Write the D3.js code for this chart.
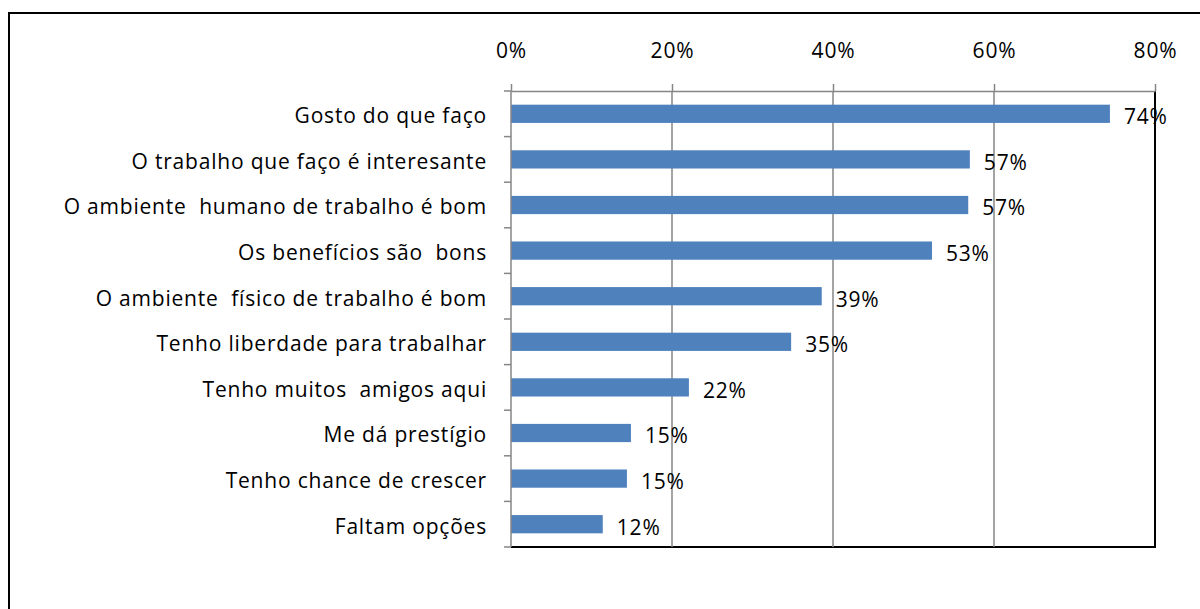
<!DOCTYPE html>
<html>
<head>
<meta charset="utf-8">
<script src="https://cdn.jsdelivr.net/npm/d3@7"></script>
<style>
  body { margin: 0; background: #fff; }
  text { font-family: "Open Sans", sans-serif; fill: #000; }
</style>
</head>
<body>
<div id="chart"></div>
<script>
const categories = [
  "Gosto do que faço",
  "O trabalho que faço é interesante",
  "O ambiente  humano de trabalho é bom",
  "Os benefícios são  bons",
  "O ambiente  físico de trabalho é bom",
  "Tenho liberdade para trabalhar",
  "Tenho muitos  amigos aqui",
  "Me dá prestígio",
  "Tenho chance de crescer",
  "Faltam opções"
];
const values = [74.4, 57.0, 56.8, 52.3, 38.6, 34.8, 22.1, 14.9, 14.4, 11.4];
const valueLabels = ["74%", "57%", "57%", "53%", "39%", "35%", "22%", "15%", "15%", "12%"];
const tickValues = [0, 20, 40, 60, 80];

const width = 1200, height = 609;
const margin = { top: 91, right: 45, bottom: 62, left: 511 };
const fontSize = "21px";
const spacing = "0.8px";

const svg = d3.select("#chart").append("svg")
    .attr("width", width)
    .attr("height", height);

// outer frame (right/bottom edges fall outside the picture)
svg.append("rect")
    .attr("x", 9).attr("y", 13)
    .attr("width", width).attr("height", height)
    .attr("fill", "none")
    .attr("stroke", "#000")
    .attr("stroke-width", 2);

const x = d3.scaleLinear()
    .domain([0, 80])
    .range([margin.left, width - margin.right]);

const y = d3.scaleBand()
    .domain(categories)
    .range([margin.top, height - margin.bottom])
    .paddingInner(0.6)
    .paddingOuter(0.3);

const g = svg.append("g");

// plot border (right and bottom)
g.append("path")
    .attr("d", `M${x(80)},${margin.top}V${height - margin.bottom}H${x(0)}`)
    .attr("fill", "none")
    .attr("stroke", "#000")
    .attr("stroke-width", 2);

// gridlines
g.selectAll(".grid")
  .data(tickValues.slice(1, -1))
  .enter().append("line")
    .attr("class", "grid")
    .attr("x1", d => x(d)).attr("x2", d => x(d))
    .attr("y1", margin.top).attr("y2", height - margin.bottom)
    .attr("stroke", "#868686")
    .attr("stroke-width", 1.5);

// top axis
const xAxis = d3.axisTop(x)
    .tickValues(tickValues)
    .tickFormat(d => d + "%")
    .tickSize(7)
    .tickPadding(26)
    .tickSizeOuter(0);

const xAxisGroup = g.append("g")
    .attr("transform", `translate(0,${margin.top})`)
    .call(xAxis);
xAxisGroup.select(".domain").attr("stroke", "#868686").attr("stroke-width", 1.5);
xAxisGroup.selectAll(".tick line").attr("stroke", "#868686").attr("stroke-width", 1.5);
xAxisGroup.selectAll(".tick text")
    .style("font-family", "'Open Sans', sans-serif")
    .style("font-size", fontSize)
    .style("letter-spacing", spacing)
    .attr("fill", "#000");

// bars
g.selectAll(".bar")
  .data(values)
  .enter().append("rect")
    .attr("class", "bar")
    .attr("x", x(0))
    .attr("y", (d, i) => y(categories[i]))
    .attr("width", d => x(d) - x(0))
    .attr("height", y.bandwidth())
    .attr("fill", "#4f81bd");

// left axis with ticks between categories
const yLeft = d3.scaleLinear().domain([0, categories.length]).range([margin.top, height - margin.bottom]);

g.append("line")
    .attr("x1", x(0)).attr("x2", x(0))
    .attr("y1", margin.top).attr("y2", height - margin.bottom)
    .attr("stroke", "#868686")
    .attr("stroke-width", 1.5);

g.selectAll(".ytick")
  .data(d3.range(categories.length + 1))
  .enter().append("line")
    .attr("class", "ytick")
    .attr("x1", x(0) - 7).attr("x2", x(0))
    .attr("y1", d => yLeft(d)).attr("y2", d => yLeft(d))
    .attr("stroke", "#868686")
    .attr("stroke-width", 1.5);

g.selectAll(".cat")
  .data(categories)
  .enter().append("text")
    .attr("class", "cat")
    .attr("x", x(0) - 24)
    .attr("y", (d, i) => (yLeft(i) + yLeft(i + 1)) / 2 + 2)
    .attr("dy", "0.35em")
    .attr("text-anchor", "end")
    .style("font-size", fontSize)
    .style("letter-spacing", spacing)
    .style("white-space", "pre")
    .text(d => d);

// value labels
g.selectAll(".val")
  .data(values)
  .enter().append("text")
    .attr("class", "val")
    .attr("x", d => x(d) + 14)
    .attr("y", (d, i) => (yLeft(i) + yLeft(i + 1)) / 2 + 3)
    .attr("dy", "0.35em")
    .style("font-size", fontSize)
    .style("letter-spacing", spacing)
    .text((d, i) => valueLabels[i]);
</script>
</body>
</html>
